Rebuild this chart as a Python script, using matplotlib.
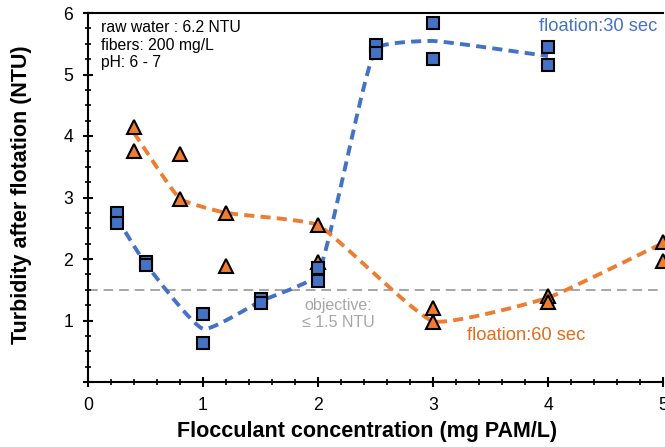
import numpy as np
import matplotlib.pyplot as plt
from matplotlib.ticker import MultipleLocator, FuncFormatter

plt.rcParams['font.family'] = ['Liberation Sans', 'DejaVu Sans']

# floation 30 sec (blue squares), two replicates per dose
x30 = [0.25, 0.5, 1.0, 1.5, 2.0, 2.5, 3.0, 4.0]
rep30_a = [2.75, 1.95, 1.10, 1.35, 1.85, 5.48, 5.84, 5.45]
rep30_b = [2.58, 1.90, 0.63, 1.28, 1.65, 5.35, 5.25, 5.15]

# floation 60 sec (orange triangles)
x60 = [0.4, 0.8, 1.2, 2.0, 3.0, 4.0, 5.0]
rep60_a = [4.15, 3.70, 2.75, 2.55, 1.20, 1.40, 2.27]
rep60_b = [3.75, 2.98, 1.88, 1.95, 0.98, 1.30, 1.97]
trend60 = [4.05, 2.98, 2.75, 2.55, 0.99, 1.37, 2.26]

objective = 1.5

blue = '#4472C4'
orange = '#ED7D31'


# lightly smoothed line (bezier corners), worked out in screen proportions
def smooth(xs, ys, k=0.13, n=30):
    sc = np.array([115.0, 61.5])
    p = np.column_stack([xs, ys]).astype(float) * sc
    tang = []
    for i in range(len(p)):
        a = p[max(i - 1, 0)]
        b = p[min(i + 1, len(p) - 1)]
        v = b - a
        tang.append(v / np.linalg.norm(v))
    out = []
    for i in range(len(p) - 1):
        L = np.linalg.norm(p[i + 1] - p[i])
        c1 = p[i] + tang[i] * L * k
        c2 = p[i + 1] - tang[i + 1] * L * k
        t = np.linspace(0, 1, n)[:, None]
        seg = (1 - t) ** 3 * p[i] + 3 * (1 - t) ** 2 * t * c1 + 3 * (1 - t) * t ** 2 * c2 + t ** 3 * p[i + 1]
        out.append(seg)
    out = np.vstack(out) / sc
    return out[:, 0], out[:, 1]


fig = plt.figure(figsize=(6.65, 4.47), dpi=100)
ax = fig.add_axes([88 / 665, 1 - 382 / 447, 575 / 665, 369 / 447])

mean30 = (np.array(rep30_a) + np.array(rep30_b)) / 2
sx, sy = smooth(x30, mean30)
ax.plot(sx, sy, color=blue, lw=2.8, dashes=(2.6, 1.6), zorder=2)
sx, sy = smooth(x60, trend60)
ax.plot(sx, sy, color=orange, lw=2.8, dashes=(2.6, 1.6), zorder=2)

ax.axhline(objective, color='#A6A6A6', lw=1.4, ls=(0, (5, 3)), zorder=1)

for ys in (rep60_a, rep60_b):
    ax.plot(x60, ys, '^', ms=10.5, mfc=orange, mec='black', mew=1.5,
            clip_on=False, zorder=3)
for ys in (rep30_a, rep30_b):
    ax.plot(x30, ys, 's', ms=9, mfc=blue, mec='black', mew=1.5,
            clip_on=False, zorder=4)

ax.text(0.11, 5.88, 'raw water : 6.2 NTU\nfibers: 200 mg/L\npH: 6 - 7',
        fontsize=11.3, va='top', ha='left', linespacing=1.2)
ax.text(4.95, 5.78, 'floation:30 sec', color=blue, fontsize=13.2,
        ha='right', va='center')
ax.text(3.295, 0.76, 'floation:60 sec', color='#E36C1C', fontsize=13.2,
        ha='left', va='center')
ax.text(2.174, 1.11, 'objective:\n\u2264 1.5 NTU', color='#A6A6A6',
        fontsize=11.5, ha='center', va='center', linespacing=1.15)

ax.set_xlim(0, 5)
ax.set_ylim(0, 6)
ax.xaxis.set_major_locator(MultipleLocator(1))
ax.xaxis.set_minor_locator(MultipleLocator(0.2))
ax.yaxis.set_major_locator(MultipleLocator(1))
ax.yaxis.set_minor_locator(MultipleLocator(0.25))
ax.yaxis.set_major_formatter(FuncFormatter(lambda v, p: '' if v == 0 else '%d' % v))
ax.tick_params(which='major', direction='inout', length=7.5, width=1.5,
               labelsize=12.7, pad=7)
ax.tick_params(which='minor', direction='inout', length=4, width=1.2)
ax.tick_params(axis='x', top=False)
ax.spines['right'].set_visible(False)
for s in ('left', 'bottom', 'top'):
    ax.spines[s].set_linewidth(1.5)

fig.text(367 / 665, 1 - 432 / 447, 'Flocculant concentration (mg PAM/L)',
         fontsize=15.5, fontweight='bold', ha='center', va='center')
fig.text(22 / 665, 1 - 195 / 447, 'Turbidity after flotation (NTU)',
         fontsize=15.5, fontweight='bold', ha='center', va='center',
         rotation=90)

fig.savefig('out.png', dpi=100)
